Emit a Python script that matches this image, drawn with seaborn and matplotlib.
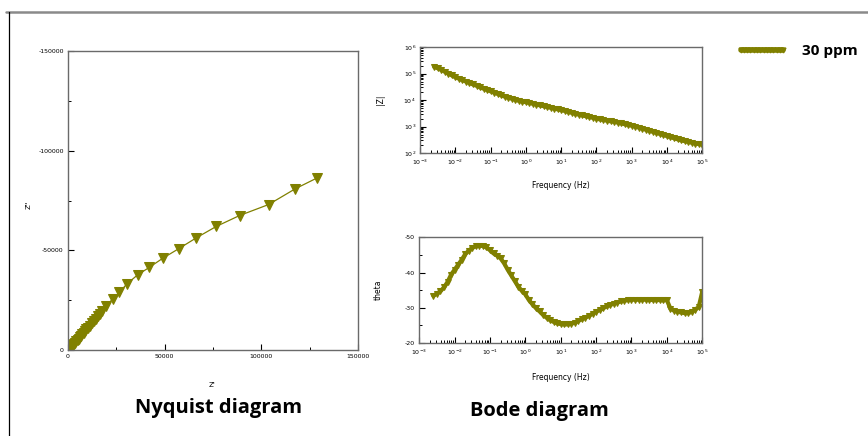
import matplotlib
matplotlib.use('Agg')
import numpy as np
import pandas as pd
import matplotlib.pyplot as plt
import seaborn as sns
from matplotlib.lines import Line2D
from matplotlib.ticker import MultipleLocator, LogLocator, NullFormatter

# Nyquist data (ohm), high frequency near the origin
z_real = [100, 250, 500, 800, 1100, 1500, 2000, 2500, 3100, 3700, 4300, 5000,
          5700, 6300, 6900, 7500, 8100, 8800, 9500, 10300, 11200, 12200, 13300,
          14300, 15300, 16400, 17600, 19800, 23100, 26600, 30500, 36000, 42100,
          49100, 57200, 66400, 76700, 88800, 103800, 117600, 128800]
z_imag = [-100, -200, -400, -700, -1000, -1400, -1900, -2500, -3100, -3800, -4400, -5100,
          -5800, -6500, -7200, -7900, -8600, -9500, -10400, -11300, -12200, -13400, -14700,
          -15800, -16900, -18300, -19800, -22300, -25600, -29000, -33200, -37700, -41500,
          -46100, -50800, -56300, -62000, -67500, -73000, -80900, -86300]

# Bode data: log10 of frequency (Hz), log10 |Z| and phase (deg)
log_freq = [-2.6, -2.5, -2.4, -2.3, -2.2, -2.1, -2.0, -1.9, -1.8, -1.7, -1.6, -1.5,
            -1.4, -1.3, -1.2, -1.1, -1.0, -0.9, -0.8, -0.7, -0.6, -0.5, -0.4, -0.3,
            -0.2, -0.1, 0.0, 0.1, 0.2, 0.3, 0.4, 0.5, 0.6, 0.7, 0.8, 0.9, 1.0, 1.1,
            1.2, 1.3, 1.4, 1.5, 1.6, 1.7, 1.8, 1.9, 2.0, 2.1, 2.2, 2.3, 2.4, 2.5,
            2.6, 2.7, 2.8, 2.9, 3.0, 3.1, 3.2, 3.3, 3.4, 3.5, 3.6, 3.7, 3.8, 3.9,
            4.0, 4.1, 4.2, 4.3, 4.4, 4.5, 4.6, 4.7, 4.8, 4.9, 5.0]
log_zmod = [5.25, 5.20, 5.14, 5.07, 5.00, 4.93, 4.86, 4.81, 4.75, 4.70, 4.64, 4.59,
            4.54, 4.48, 4.43, 4.38, 4.33, 4.28, 4.23, 4.18, 4.13, 4.09, 4.05, 4.01,
            3.97, 3.94, 3.92, 3.89, 3.86, 3.83, 3.80, 3.77, 3.74, 3.71, 3.68, 3.65, 3.62, 3.59,
            3.55, 3.52, 3.48, 3.45, 3.42, 3.39, 3.36, 3.33, 3.30, 3.27, 3.25, 3.22, 3.20, 3.18,
            3.15, 3.12, 3.09, 3.06, 3.03, 3.00, 2.96, 2.92, 2.88, 2.84, 2.80, 2.76, 2.72, 2.68,
            2.64, 2.60, 2.56, 2.52, 2.48, 2.45, 2.42, 2.39, 2.36, 2.34, 2.32]
theta = [-33.4, -34.0, -34.7, -35.8, -37.3, -39.4, -40.8, -42.2, -43.6, -45.2, -46.2, -47.0,
         -47.4, -47.6, -47.5, -47.1, -46.3, -45.4, -44.8, -44.0, -42.6, -40.8, -39.2, -37.6,
         -36.0, -34.8, -33.8, -32.2, -31.0, -29.9, -29.0, -28.0, -27.2, -26.5, -26.0, -25.6, -25.4, -25.3,
         -25.3, -25.5, -25.8, -26.3, -26.8, -27.2, -27.8, -28.3, -28.9, -29.4, -29.9, -30.4, -30.8, -31.2,
         -31.5, -31.8, -32.0, -32.2, -32.3, -32.3, -32.3, -32.3, -32.3, -32.3, -32.2, -32.2, -32.2, -32.1,
         -32.2, -29.8, -29.2, -28.9, -28.7, -28.5, -28.5, -28.8, -29.5, -30.2, -34.5]

series_label = "30 ppm"
olive = "#808000"
spine_color = "#6a6a6a"

nyq = pd.DataFrame({"Zre": z_real, "Zim": z_imag})
bode = pd.DataFrame({"f": 10 ** np.array(log_freq), "Zmod": 10 ** np.array(log_zmod), "theta": theta})

sns.set_style("ticks")
plt.rcParams['font.family'] = ['DejaVu Sans']
plt.rcParams['text.color'] = 'black'
plt.rcParams['axes.labelcolor'] = 'black'
plt.rcParams['xtick.color'] = 'black'
plt.rcParams['ytick.color'] = 'black'
plt.rcParams['axes.unicode_minus'] = False

fig = plt.figure(figsize=(8.68, 4.36), dpi=100)


def style_axes(ax):
    for s in ax.spines.values():
        s.set_color(spine_color)
        s.set_linewidth(1.0)
    ax.tick_params(which='both', direction='in', labelsize=4.5, color='black',
                   bottom=True, left=True, top=False, right=False, pad=3)
    ax.tick_params(which='major', length=4, width=0.8)
    ax.tick_params(which='minor', length=2.2, width=0.7)


# Nyquist
ax1 = fig.add_axes([0.0783, 0.197, 0.334, 0.686])
sns.lineplot(data=nyq, x="Zre", y="Zim", sort=False, ax=ax1, color=olive,
             marker='v', markersize=6.5, markeredgecolor=olive, linewidth=0.9)
ax1.set_xlim(0, 150000)
ax1.set_ylim(0, -150000)
ax1.xaxis.set_major_locator(MultipleLocator(50000))
ax1.xaxis.set_minor_locator(MultipleLocator(25000))
ax1.yaxis.set_major_locator(MultipleLocator(50000))
ax1.yaxis.set_minor_locator(MultipleLocator(25000))
ax1.set_xlabel("Z'", fontsize=5)
ax1.set_ylabel("Z''", fontsize=5)
ax1.xaxis.set_label_coords(0.497, -0.105)
ax1.yaxis.set_label_coords(-0.124, 0.485)
style_axes(ax1)


def log_axis(ax):
    ax.set_xscale('log')
    ax.set_xlim(1e-3, 1e5)
    ax.xaxis.set_major_locator(LogLocator(base=10, numticks=20))
    ax.xaxis.set_minor_locator(LogLocator(base=10, subs=np.arange(2, 10), numticks=20))
    ax.xaxis.set_minor_formatter(NullFormatter())
    ax.set_xlabel("Frequency (Hz)", fontsize=5.5)


# Bode |Z|
ax2 = fig.add_axes([0.484, 0.649, 0.325, 0.243])
sns.lineplot(data=bode, x="f", y="Zmod", ax=ax2, color=olive, marker='v',
             markersize=5, markeredgecolor=olive, linewidth=3)
log_axis(ax2)
ax2.set_yscale('log')
ax2.set_ylim(1e2, 1e6)
ax2.yaxis.set_major_locator(LogLocator(base=10, numticks=10))
ax2.yaxis.set_minor_locator(LogLocator(base=10, subs=np.arange(2, 10), numticks=10))
ax2.yaxis.set_minor_formatter(NullFormatter())
ax2.set_ylabel("|Z|", fontsize=5.5)
ax2.xaxis.set_label_coords(0.5, -0.26)
ax2.yaxis.set_label_coords(-0.124, 0.5)
style_axes(ax2)

# Bode phase
ax3 = fig.add_axes([0.483, 0.213, 0.326, 0.243])
sns.lineplot(data=bode, x="f", y="theta", ax=ax3, color=olive, marker='v',
             markersize=5, markeredgecolor=olive, linewidth=3)
log_axis(ax3)
ax3.set_ylim(-20, -50)
ax3.yaxis.set_major_locator(MultipleLocator(10))
ax3.yaxis.set_minor_locator(MultipleLocator(5))
ax3.set_ylabel("theta", fontsize=5.5)
ax3.xaxis.set_label_coords(0.5, -0.28)
ax3.yaxis.set_label_coords(-0.128, 0.5)
style_axes(ax3)

# legend
handle = Line2D([], [], color=olive, marker='v', markersize=3.5, linewidth=4,
                markeredgecolor=olive)
fig.legend([handle], [series_label], loc='center left', bbox_to_anchor=(0.832, 0.882),
           frameon=False, numpoints=14, handlelength=3.4, handletextpad=0.9,
           prop={'family': 'Open Sans', 'weight': 'bold', 'size': 11})

# captions
fig.text(0.252, 0.064, "Nyquist diagram", ha='center', va='center',
         fontsize=14.5, family='Open Sans', weight='bold', color='black')
fig.text(0.621, 0.057, "Bode diagram", ha='center', va='center',
         fontsize=14.5, family='Open Sans', weight='bold', color='black')

# page frame
fig.add_artist(Line2D([0.007, 1.0], [0.972, 0.972], color='#8a8a8a', linewidth=1.8))
fig.add_artist(Line2D([0.0104, 0.0104], [0.0, 0.972], color='black', linewidth=0.9))

fig.savefig("out.png", dpi=100)
